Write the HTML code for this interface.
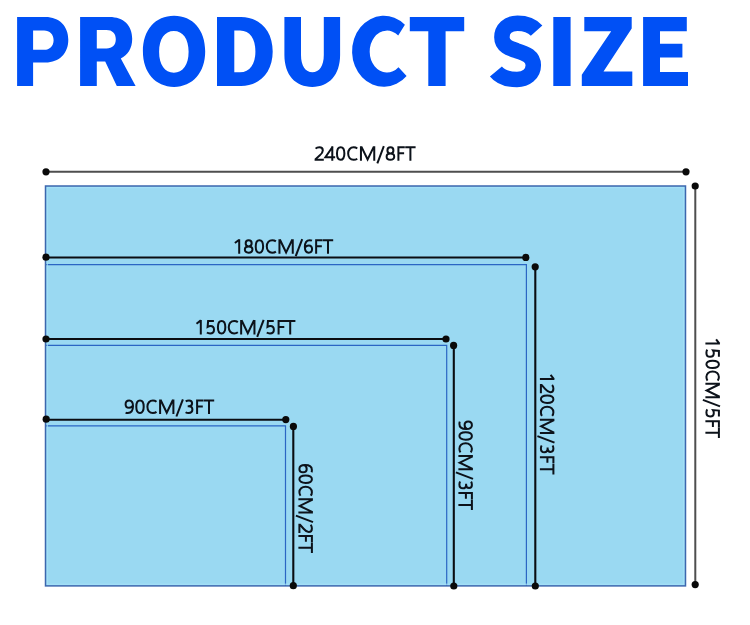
<!DOCTYPE html>
<html><head><meta charset="utf-8">
<style>
html,body{margin:0;padding:0;background:#fff;}
body{width:750px;height:625px;position:relative;overflow:hidden;font-family:"Liberation Sans",sans-serif;}
svg{position:absolute;left:0;top:0;}
.tx{position:absolute;margin:0;white-space:nowrap;color:transparent;font-family:"Liberation Sans",sans-serif;transform-origin:0 0;}
</style></head>
<body>
<svg class="ttl" width="750" height="110" viewBox="0 0 750 110" style="position:absolute;left:0;top:0">
<g fill="#0050f5" fill-rule="evenodd">
<path d="M17.1,17.1 H45.5 C59.2,17.1 68.3,26.2 68.3,39.85 C68.3,53.5 59.2,62.6 45.5,62.6 H33.1 V86 H17.1 Z M33.1,30.6 H44 C49.8,30.6 53.6,34.4 53.6,40.2 C53.6,46 49.8,49.8 44,49.8 H33.1 Z"/>
<path d="M80.1,17.1 H109.5 C123.5,17.1 132.2,25.5 132.2,38.8 C132.2,48.5 127.8,55.2 120.8,58.4 L135.6,86 H116.8 L105.2,61.6 H96.8 V86 H80.1 Z M96.8,29.9 H106.5 C112.3,29.9 115.8,33.3 115.8,39.2 C115.8,45 112.3,48.4 106.5,48.4 H96.8 Z"/>
<path d="M142.9,51.35 C142.9,30.02 155.36,15.8 174.05,15.8 C192.74,15.8 205.2,30.02 205.2,51.35 C205.2,72.68 192.74,86.9 174.05,86.9 C155.36,86.9 142.9,72.68 142.9,51.35 Z M159.1,51.85 C159.1,38.86 164.7,30.9 173.85,30.9 C183,30.9 188.6,38.86 188.6,51.85 C188.6,64.84 183,72.8 173.85,72.8 C164.7,72.8 159.1,64.84 159.1,51.85 Z"/>
<path d="M217,17.1 H241 C260,17.1 272.7,31 272.7,51.6 C272.7,72.2 260,86 241,86 H217 Z M234.3,30.6 H240 C250,30.6 255.4,39 255.4,51.4 C255.4,63.8 250,72.2 240,72.2 H234.3 Z"/>
<path d="M284.4,17.1 H301 V55 C301,66 305.5,72.2 312.4,72.2 C319.3,72.2 323.8,66 323.8,55 V17.1 H340.1 V55 C340.1,75 329,86.9 312.25,86.9 C295.5,86.9 284.4,75 284.4,55 Z"/>
<path d="M404.9,24.8 A31.7,35.55 0 1 0 406.6,76 L398.5,67.3 A17.3,21 0 1 1 398.2,35.6 Z"/>
<path d="M409.8,17.1 H464.2 V31.2 H445.6 V86 H428.3 V31.2 H409.8 Z"/>
<path d="M553.3,17.1 H570.6 V86 H553.3 Z"/>
<path d="M584.3,17.1 H631.7 V28.6 L603.5,71.5 H632.3 V86 H581.8 V74.7 L611.2,31.2 H584.3 Z"/>
<path d="M643.1,17.1 H686.8 V31.3 H660 V43.8 H682.4 V57.5 H660 V71.9 H688 V86 H643.1 Z"/>
</g>
<path fill="none" stroke="#0050f5" stroke-width="15.5" d="M536.6,30.6 C532,25.5 525,23.2 517.5,23.2 C508,23.2 501.9,29 501.9,37.2 C501.9,46 510,48.5 517,50.8 C526,53.5 533.3,56.5 533.3,65.3 C533.3,74 526,79.5 517,79.5 C508,79.5 500,76.5 495.9,71.5"/>
</svg>
<svg width="750" height="625" viewBox="0 0 750 625">
  <rect x="45.5" y="186" width="640" height="399.9" fill="#9ad9f2"/>
  <g fill="none" stroke="#2b66c4" stroke-width="1.2">
    <path d="M45.5 264.6 H526.4 V585.8"/>
    <path d="M45.5 345.4 H446.7 V585.8"/>
    <path d="M45.5 425.8 H285.5 V585.8"/>
  </g>
  <rect x="47.2" y="187.7" width="636.6" height="396.5" fill="none" stroke="#a6e2f8" stroke-width="1"/>
  <rect x="45.5" y="186" width="640" height="399.9" fill="none" stroke="#3c67ae" stroke-width="1.5"/>
  <g stroke="#4e4e4e" stroke-width="2">
    <path d="M46 171.8 H686"/>
    <path d="M695.3 186 V585"/>
  </g>
  <g stroke="#0a0d12" stroke-width="2.1">
    <path d="M46 257.5 H526"/>
    <path d="M46 339 H446"/>
    <path d="M46 419.7 H286"/>
    <path d="M535.3 266.8 V586"/>
    <path d="M453.8 345.4 V586"/>
    <path d="M293.3 426.4 V586"/>
  </g>
  <g fill="#0a0a0a">
    <circle cx="46" cy="171.8" r="3.6"/><circle cx="686" cy="171.8" r="3.6"/>
    <circle cx="695.2" cy="186" r="3.6"/><circle cx="695.2" cy="584.6" r="3.6"/>
    <circle cx="46" cy="257.2" r="3.6"/><circle cx="525.8" cy="257.4" r="3.6"/>
    <circle cx="46" cy="339" r="3.6"/><circle cx="446" cy="339" r="3.6"/>
    <circle cx="46.2" cy="419.2" r="3.6"/><circle cx="285.8" cy="419.6" r="3.6"/>
    <circle cx="535.2" cy="266.8" r="3.6"/><circle cx="535.3" cy="586" r="3.6"/>
    <circle cx="453.6" cy="345.4" r="3.6"/><circle cx="453.8" cy="586" r="3.6"/>
    <circle cx="293.4" cy="426.4" r="3.6"/><circle cx="293.3" cy="585.7" r="3.6"/>
  </g>
</svg>
<svg class="labels" width="750" height="625" viewBox="0 0 750 625" style="position:absolute;left:0;top:0"><g fill="none" stroke="#0c121a" stroke-width="2.0" stroke-linejoin="miter" stroke-miterlimit="2.5">
<g transform="translate(314.6,160.8)"><path transform="translate(0.00,0)" d="M1.0,-12.2 C1.9,-13.1 3.3,-13.5 4.7,-13.5 C6.9,-13.5 8.2,-12.2 8.2,-10.3 C8.2,-8.4 7.1,-7.0 5.0,-5.2 L1.0,-1.7 V-1.0 H9.2"/><path transform="translate(9.79,0)" d="M7.9,0 V-14.5 M8.4,-14.3 L1.0,-3.6 H10.8"/><path transform="translate(21.38,0)" d="M4.7,-13.5 C7.0,-13.5 8.4,-11.1 8.4,-7.25 C8.4,-3.4 7.0,-1.0 4.7,-1.0 C2.4,-1.0 1.0,-3.4 1.0,-7.25 C1.0,-11.1 2.4,-13.5 4.7,-13.5 Z"/><path transform="translate(32.56,0)" d="M10.1,-12.3 C9.1,-13.1 7.9,-13.5 6.5,-13.5 C3.2,-13.5 1.0,-11.0 1.0,-7.25 C1.0,-3.4 3.2,-1.0 6.4,-1.0 C7.9,-1.0 9.1,-1.35 10.1,-2.1"/><path transform="translate(45.35,0)" d="M1.0,0 V-14.5 M1.4,-14.2 L7.65,-1.3 L13.9,-14.2 M14.3,-14.5 V0"/><path transform="translate(62.14,0)" d="M7.1,-14.6 L0.6,2.5"/><path transform="translate(71.02,0)" d="M4.8,-7.2 C6.75,-7.2 7.8,-8.6 7.8,-10.35 C7.8,-12.25 6.55,-13.5 4.8,-13.5 C3.05,-13.5 1.8,-12.25 1.8,-10.35 C1.8,-8.6 2.85,-7.2 4.8,-7.2 C7.1,-7.2 8.6,-6.05 8.6,-4.1 C8.6,-2.2 7.1,-1.0 4.8,-1.0 C2.5,-1.0 1.0,-2.2 1.0,-4.1 C1.0,-6.05 2.5,-7.2 4.8,-7.2 Z"/><path transform="translate(82.81,0)" d="M1.0,0 V-13.5 H7.4 M1.0,-7.5 H6.7"/><path transform="translate(90.60,0)" d="M0,-13.5 H10.4 M5.2,-13.5 V0"/></g>
<g transform="translate(234.2,253.7)"><path transform="translate(0.00,0)" d="M0.7,-10.7 L5.0,-14.0 M5.0,-14.5 V0"/><path transform="translate(9.66,0)" d="M4.8,-7.2 C6.75,-7.2 7.8,-8.6 7.8,-10.35 C7.8,-12.25 6.55,-13.5 4.8,-13.5 C3.05,-13.5 1.8,-12.25 1.8,-10.35 C1.8,-8.6 2.85,-7.2 4.8,-7.2 C7.1,-7.2 8.6,-6.05 8.6,-4.1 C8.6,-2.2 7.1,-1.0 4.8,-1.0 C2.5,-1.0 1.0,-2.2 1.0,-4.1 C1.0,-6.05 2.5,-7.2 4.8,-7.2 Z"/><path transform="translate(20.52,0)" d="M4.7,-13.5 C7.0,-13.5 8.4,-11.1 8.4,-7.25 C8.4,-3.4 7.0,-1.0 4.7,-1.0 C2.4,-1.0 1.0,-3.4 1.0,-7.25 C1.0,-11.1 2.4,-13.5 4.7,-13.5 Z"/><path transform="translate(31.59,0)" d="M10.1,-12.3 C9.1,-13.1 7.9,-13.5 6.5,-13.5 C3.2,-13.5 1.0,-11.0 1.0,-7.25 C1.0,-3.4 3.2,-1.0 6.4,-1.0 C7.9,-1.0 9.1,-1.35 10.1,-2.1"/><path transform="translate(44.25,0)" d="M1.0,0 V-14.5 M1.4,-14.2 L7.65,-1.3 L13.9,-14.2 M14.3,-14.5 V0"/><path transform="translate(60.91,0)" d="M7.1,-14.6 L0.6,2.5"/><path transform="translate(69.67,0)" d="M8.1,-13.1 C7.5,-13.4 6.7,-13.5 5.8,-13.5 C2.9,-13.5 1.0,-10.9 1.0,-6.6 C1.0,-2.9 2.5,-1.0 4.8,-1.0 C6.8,-1.0 8.2,-2.5 8.2,-4.6 C8.2,-6.8 6.9,-8.3 4.9,-8.3 C3.0,-8.3 1.6,-7.2 1.0,-5.9"/><path transform="translate(80.94,0)" d="M1.0,0 V-13.5 H7.4 M1.0,-7.5 H6.7"/><path transform="translate(88.60,0)" d="M0,-13.5 H10.4 M5.2,-13.5 V0"/></g>
<g transform="translate(195.8,334.4)"><path transform="translate(0.00,0)" d="M0.7,-10.7 L5.0,-14.0 M5.0,-14.5 V0"/><path transform="translate(10.21,0)" d="M7.9,-13.5 H2.1 L1.6,-7.6 C2.4,-8.1 3.4,-8.4 4.5,-8.4 C6.8,-8.4 8.0,-6.8 8.0,-4.7 C8.0,-2.4 6.4,-1.0 4.1,-1.0 C2.8,-1.0 1.7,-1.3 0.9,-1.9"/><path transform="translate(21.12,0)" d="M4.7,-13.5 C7.0,-13.5 8.4,-11.1 8.4,-7.25 C8.4,-3.4 7.0,-1.0 4.7,-1.0 C2.4,-1.0 1.0,-3.4 1.0,-7.25 C1.0,-11.1 2.4,-13.5 4.7,-13.5 Z"/><path transform="translate(31.94,0)" d="M10.1,-12.3 C9.1,-13.1 7.9,-13.5 6.5,-13.5 C3.2,-13.5 1.0,-11.0 1.0,-7.25 C1.0,-3.4 3.2,-1.0 6.4,-1.0 C7.9,-1.0 9.1,-1.35 10.1,-2.1"/><path transform="translate(44.35,0)" d="M1.0,0 V-14.5 M1.4,-14.2 L7.65,-1.3 L13.9,-14.2 M14.3,-14.5 V0"/><path transform="translate(60.76,0)" d="M7.1,-14.6 L0.6,2.5"/><path transform="translate(70.07,0)" d="M7.9,-13.5 H2.1 L1.6,-7.6 C2.4,-8.1 3.4,-8.4 4.5,-8.4 C6.8,-8.4 8.0,-6.8 8.0,-4.7 C8.0,-2.4 6.4,-1.0 4.1,-1.0 C2.8,-1.0 1.7,-1.3 0.9,-1.9"/><path transform="translate(81.79,0)" d="M1.0,0 V-13.5 H7.4 M1.0,-7.5 H6.7"/><path transform="translate(89.20,0)" d="M0,-13.5 H10.4 M5.2,-13.5 V0"/></g>
<g transform="translate(124.6,414.0)"><path transform="translate(0.00,0)" d="M1.0,-1.4 C1.6,-1.1 2.4,-1.0 3.3,-1.0 C6.3,-1.0 8.4,-3.6 8.4,-7.9 C8.4,-11.6 6.8,-13.5 4.6,-13.5 C2.5,-13.5 1.0,-12.0 1.0,-9.8 C1.0,-7.6 2.5,-6.2 4.5,-6.2 C6.4,-6.2 7.8,-7.3 8.4,-8.6"/><path transform="translate(10.70,0)" d="M4.7,-13.5 C7.0,-13.5 8.4,-11.1 8.4,-7.25 C8.4,-3.4 7.0,-1.0 4.7,-1.0 C2.4,-1.0 1.0,-3.4 1.0,-7.25 C1.0,-11.1 2.4,-13.5 4.7,-13.5 Z"/><path transform="translate(21.80,0)" d="M10.1,-12.3 C9.1,-13.1 7.9,-13.5 6.5,-13.5 C3.2,-13.5 1.0,-11.0 1.0,-7.25 C1.0,-3.4 3.2,-1.0 6.4,-1.0 C7.9,-1.0 9.1,-1.35 10.1,-2.1"/><path transform="translate(34.50,0)" d="M1.0,0 V-14.5 M1.4,-14.2 L7.65,-1.3 L13.9,-14.2 M14.3,-14.5 V0"/><path transform="translate(51.20,0)" d="M7.1,-14.6 L0.6,2.5"/><path transform="translate(60.20,0)" d="M0.9,-12.7 C1.8,-13.25 2.9,-13.5 4.2,-13.5 C6.2,-13.5 7.3,-12.4 7.3,-10.7 C7.3,-8.9 5.9,-7.7 3.9,-7.7 H2.9 M3.9,-7.7 C6.2,-7.7 7.6,-6.4 7.6,-4.4 C7.6,-2.3 6.0,-1.0 3.8,-1.0 C2.6,-1.0 1.6,-1.25 0.8,-1.8"/><path transform="translate(71.50,0)" d="M1.0,0 V-13.5 H7.4 M1.0,-7.5 H6.7"/><path transform="translate(79.20,0)" d="M0,-13.5 H10.4 M5.2,-13.5 V0"/></g>
<g transform="translate(705.4,338.6) rotate(90)"><path transform="translate(0.00,0)" d="M0.7,-10.7 L5.0,-14.0 M5.0,-14.5 V0"/><path transform="translate(10.19,0)" d="M7.9,-13.5 H2.1 L1.6,-7.6 C2.4,-8.1 3.4,-8.4 4.5,-8.4 C6.8,-8.4 8.0,-6.8 8.0,-4.7 C8.0,-2.4 6.4,-1.0 4.1,-1.0 C2.8,-1.0 1.7,-1.3 0.9,-1.9"/><path transform="translate(21.07,0)" d="M4.7,-13.5 C7.0,-13.5 8.4,-11.1 8.4,-7.25 C8.4,-3.4 7.0,-1.0 4.7,-1.0 C2.4,-1.0 1.0,-3.4 1.0,-7.25 C1.0,-11.1 2.4,-13.5 4.7,-13.5 Z"/><path transform="translate(31.86,0)" d="M10.1,-12.3 C9.1,-13.1 7.9,-13.5 6.5,-13.5 C3.2,-13.5 1.0,-11.0 1.0,-7.25 C1.0,-3.4 3.2,-1.0 6.4,-1.0 C7.9,-1.0 9.1,-1.35 10.1,-2.1"/><path transform="translate(44.25,0)" d="M1.0,0 V-14.5 M1.4,-14.2 L7.65,-1.3 L13.9,-14.2 M14.3,-14.5 V0"/><path transform="translate(60.64,0)" d="M7.1,-14.6 L0.6,2.5"/><path transform="translate(69.92,0)" d="M7.9,-13.5 H2.1 L1.6,-7.6 C2.4,-8.1 3.4,-8.4 4.5,-8.4 C6.8,-8.4 8.0,-6.8 8.0,-4.7 C8.0,-2.4 6.4,-1.0 4.1,-1.0 C2.8,-1.0 1.7,-1.3 0.9,-1.9"/><path transform="translate(81.61,0)" d="M1.0,0 V-13.5 H7.4 M1.0,-7.5 H6.7"/><path transform="translate(89.00,0)" d="M0,-13.5 H10.4 M5.2,-13.5 V0"/></g>
<g transform="translate(539.9,374.1) rotate(90)"><path transform="translate(0.00,0)" d="M0.7,-10.7 L5.0,-14.0 M5.0,-14.5 V0"/><path transform="translate(9.86,0)" d="M1.0,-12.2 C1.9,-13.1 3.3,-13.5 4.7,-13.5 C6.9,-13.5 8.2,-12.2 8.2,-10.3 C8.2,-8.4 7.1,-7.0 5.0,-5.2 L1.0,-1.7 V-1.0 H9.2"/><path transform="translate(20.42,0)" d="M4.7,-13.5 C7.0,-13.5 8.4,-11.1 8.4,-7.25 C8.4,-3.4 7.0,-1.0 4.7,-1.0 C2.4,-1.0 1.0,-3.4 1.0,-7.25 C1.0,-11.1 2.4,-13.5 4.7,-13.5 Z"/><path transform="translate(31.69,0)" d="M10.1,-12.3 C9.1,-13.1 7.9,-13.5 6.5,-13.5 C3.2,-13.5 1.0,-11.0 1.0,-7.25 C1.0,-3.4 3.2,-1.0 6.4,-1.0 C7.9,-1.0 9.1,-1.35 10.1,-2.1"/><path transform="translate(44.55,0)" d="M1.0,0 V-14.5 M1.4,-14.2 L7.65,-1.3 L13.9,-14.2 M14.3,-14.5 V0"/><path transform="translate(61.41,0)" d="M7.1,-14.6 L0.6,2.5"/><path transform="translate(70.57,0)" d="M0.9,-12.7 C1.8,-13.25 2.9,-13.5 4.2,-13.5 C6.2,-13.5 7.3,-12.4 7.3,-10.7 C7.3,-8.9 5.9,-7.7 3.9,-7.7 H2.9 M3.9,-7.7 C6.2,-7.7 7.6,-6.4 7.6,-4.4 C7.6,-2.3 6.0,-1.0 3.8,-1.0 C2.6,-1.0 1.6,-1.25 0.8,-1.8"/><path transform="translate(82.04,0)" d="M1.0,0 V-13.5 H7.4 M1.0,-7.5 H6.7"/><path transform="translate(89.90,0)" d="M0,-13.5 H10.4 M5.2,-13.5 V0"/></g>
<g transform="translate(458.4,420.6) rotate(90)"><path transform="translate(0.00,0)" d="M1.0,-1.4 C1.6,-1.1 2.4,-1.0 3.3,-1.0 C6.3,-1.0 8.4,-3.6 8.4,-7.9 C8.4,-11.6 6.8,-13.5 4.6,-13.5 C2.5,-13.5 1.0,-12.0 1.0,-9.8 C1.0,-7.6 2.5,-6.2 4.5,-6.2 C6.4,-6.2 7.8,-7.3 8.4,-8.6"/><path transform="translate(10.69,0)" d="M4.7,-13.5 C7.0,-13.5 8.4,-11.1 8.4,-7.25 C8.4,-3.4 7.0,-1.0 4.7,-1.0 C2.4,-1.0 1.0,-3.4 1.0,-7.25 C1.0,-11.1 2.4,-13.5 4.7,-13.5 Z"/><path transform="translate(21.77,0)" d="M10.1,-12.3 C9.1,-13.1 7.9,-13.5 6.5,-13.5 C3.2,-13.5 1.0,-11.0 1.0,-7.25 C1.0,-3.4 3.2,-1.0 6.4,-1.0 C7.9,-1.0 9.1,-1.35 10.1,-2.1"/><path transform="translate(34.46,0)" d="M1.0,0 V-14.5 M1.4,-14.2 L7.65,-1.3 L13.9,-14.2 M14.3,-14.5 V0"/><path transform="translate(51.14,0)" d="M7.1,-14.6 L0.6,2.5"/><path transform="translate(60.13,0)" d="M0.9,-12.7 C1.8,-13.25 2.9,-13.5 4.2,-13.5 C6.2,-13.5 7.3,-12.4 7.3,-10.7 C7.3,-8.9 5.9,-7.7 3.9,-7.7 H2.9 M3.9,-7.7 C6.2,-7.7 7.6,-6.4 7.6,-4.4 C7.6,-2.3 6.0,-1.0 3.8,-1.0 C2.6,-1.0 1.6,-1.25 0.8,-1.8"/><path transform="translate(71.41,0)" d="M1.0,0 V-13.5 H7.4 M1.0,-7.5 H6.7"/><path transform="translate(79.10,0)" d="M0,-13.5 H10.4 M5.2,-13.5 V0"/></g>
<g transform="translate(298.4,464.1) rotate(90)"><path transform="translate(0.00,0)" d="M8.1,-13.1 C7.5,-13.4 6.7,-13.5 5.8,-13.5 C2.9,-13.5 1.0,-10.9 1.0,-6.6 C1.0,-2.9 2.5,-1.0 4.8,-1.0 C6.8,-1.0 8.2,-2.5 8.2,-4.6 C8.2,-6.8 6.9,-8.3 4.9,-8.3 C3.0,-8.3 1.6,-7.2 1.0,-5.9"/><path transform="translate(10.47,0)" d="M4.7,-13.5 C7.0,-13.5 8.4,-11.1 8.4,-7.25 C8.4,-3.4 7.0,-1.0 4.7,-1.0 C2.4,-1.0 1.0,-3.4 1.0,-7.25 C1.0,-11.1 2.4,-13.5 4.7,-13.5 Z"/><path transform="translate(21.54,0)" d="M10.1,-12.3 C9.1,-13.1 7.9,-13.5 6.5,-13.5 C3.2,-13.5 1.0,-11.0 1.0,-7.25 C1.0,-3.4 3.2,-1.0 6.4,-1.0 C7.9,-1.0 9.1,-1.35 10.1,-2.1"/><path transform="translate(34.21,0)" d="M1.0,0 V-14.5 M1.4,-14.2 L7.65,-1.3 L13.9,-14.2 M14.3,-14.5 V0"/><path transform="translate(50.89,0)" d="M7.1,-14.6 L0.6,2.5"/><path transform="translate(59.66,0)" d="M1.0,-12.2 C1.9,-13.1 3.3,-13.5 4.7,-13.5 C6.9,-13.5 8.2,-12.2 8.2,-10.3 C8.2,-8.4 7.1,-7.0 5.0,-5.2 L1.0,-1.7 V-1.0 H9.2"/><path transform="translate(70.83,0)" d="M1.0,0 V-13.5 H7.4 M1.0,-7.5 H6.7"/><path transform="translate(78.50,0)" d="M0,-13.5 H10.4 M5.2,-13.5 V0"/></g>
</g></svg>
<h1 class="tx" style="left:14px;top:1px;font-size:95px;line-height:100px;font-weight:bold;transform:scaleX(0.88)">PRODUCT SIZE</h1>
<span class="tx" style="left:313.8px;top:144.2px;font-size:21.4px;line-height:20px;transform:scaleX(0.9)">240CM/8FT</span>
<span class="tx" style="left:232.9px;top:237.1px;font-size:21.4px;line-height:20px;transform:scaleX(0.89)">180CM/6FT</span>
<span class="tx" style="left:194.3px;top:317.7px;font-size:21.4px;line-height:20px;transform:scaleX(0.9)">150CM/5FT</span>
<span class="tx" style="left:123.8px;top:397.3px;font-size:21.4px;line-height:20px;transform:scaleX(0.9)">90CM/3FT</span>
<span class="tx" style="left:722.5px;top:337.1px;font-size:21.4px;line-height:20px;transform:rotate(90deg) scaleX(0.9)">150CM/5FT</span>
<span class="tx" style="left:557.2px;top:372.6px;font-size:21.4px;line-height:20px;transform:rotate(90deg) scaleX(0.9)">120CM/3FT</span>
<span class="tx" style="left:475.6px;top:419.8px;font-size:21.4px;line-height:20px;transform:rotate(90deg) scaleX(0.9)">90CM/3FT</span>
<span class="tx" style="left:315.5px;top:463.3px;font-size:21.4px;line-height:20px;transform:rotate(90deg) scaleX(0.9)">60CM/2FT</span>
</body></html>
